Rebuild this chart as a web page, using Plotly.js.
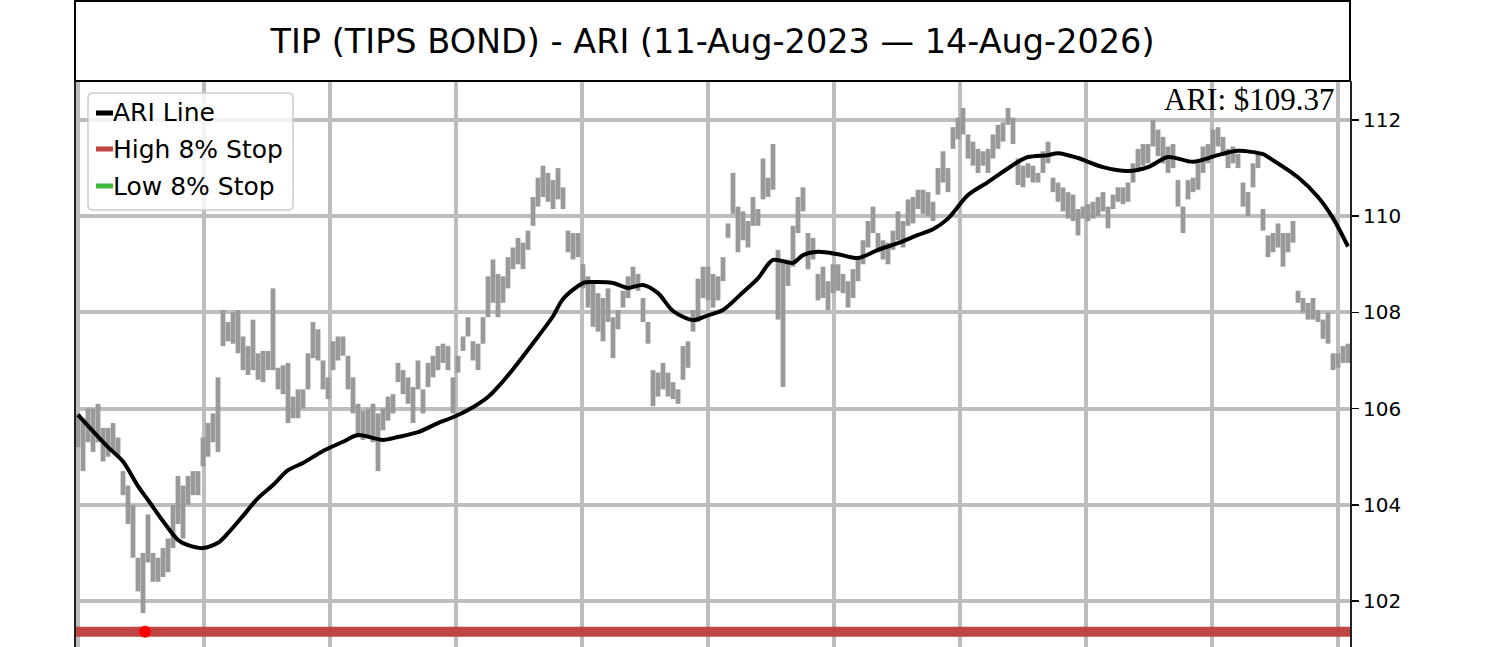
<!DOCTYPE html>
<html><head><meta charset="utf-8">
<script src="https://cdn.plot.ly/plotly-3.0.1.min.js"></script>
<style>html,body{margin:0;padding:0;background:#fff;overflow:hidden}</style>
</head><body><div id="chart" style="width:1500px;height:647px"></div>
<script>
// Daily price range bars (low / high), one per bar index
const priceLow = [
105.2,104.7,105.3,105.1,105.3,104.9,105.0,105.1,105.0,104.2,
103.6,102.9,102.2,101.75,102.8,102.4,102.4,102.5,102.6,103.1,
103.6,103.3,104.0,104.2,104.2,104.8,105.0,105.3,105.1,107.3,
107.4,107.35,107.15,106.8,106.7,106.8,106.6,106.55,106.8,106.8,
106.4,106.3,105.7,105.8,105.8,106.0,106.4,107.05,107.0,106.4,
106.2,106.8,107.0,107.1,106.4,105.9,105.4,105.35,105.4,105.3,
104.7,105.55,105.75,105.9,106.55,106.3,106.1,105.7,106.4,105.9,
106.45,106.65,106.8,106.95,106.8,105.9,106.75,107.2,107.5,107.0,
106.8,107.35,107.9,108.2,107.9,108.2,108.5,108.9,109.0,108.9,
109.3,109.8,110.2,110.4,110.3,110.15,110.35,110.15,109.25,109.1,
109.15,108.5,108.1,107.7,107.6,107.4,107.8,107.05,107.65,108.1,
108.3,108.5,108.45,107.8,107.35,106.05,106.25,106.4,106.25,106.2,
106.1,106.6,106.85,107.6,107.8,108.3,108.25,108.1,108.25,108.65,
109.55,110.05,109.25,109.5,109.35,109.8,109.8,110.35,110.4,110.55,
107.85,106.45,108.55,108.95,109.65,110.1,108.9,109.1,108.25,108.3,
108.05,108.4,108.45,108.4,108.1,108.3,108.65,109.0,109.35,109.65,
109.25,109.1,109.0,109.3,109.5,109.35,109.8,109.85,110.15,110.05,
110.0,109.9,110.45,110.7,110.5,111.4,111.6,111.7,111.2,111.05,
110.9,111.05,110.9,111.2,111.4,111.55,111.9,111.5,110.65,110.6,
110.8,110.7,110.7,110.9,111.1,110.5,110.3,110.1,109.95,109.9,
109.6,109.95,109.9,109.95,110.0,110.1,109.75,110.15,110.3,110.25,
110.3,110.7,111.0,111.05,111.1,111.45,111.25,111.1,110.9,111.0,
110.2,109.65,110.35,110.5,110.55,110.9,111.1,111.25,111.45,111.25,
111.0,111.1,111.0,110.2,110.0,110.6,111.0,109.7,109.15,109.25,
109.35,108.95,109.25,109.45,108.2,108.0,107.85,107.85,107.8,107.45,
107.35,106.8,106.85,106.95,106.95
];
const priceHigh = [
105.9,105.8,106.0,106.0,106.1,105.6,105.6,105.7,105.4,104.7,
104.4,104.0,102.9,103.0,103.8,103.0,102.9,103.1,103.3,104.0,
104.6,104.4,104.6,104.7,104.7,105.4,105.7,105.9,106.65,108.05,
107.8,108.0,108.05,107.5,107.3,107.85,107.15,107.2,107.2,108.5,
106.85,106.9,106.95,106.25,106.4,106.4,107.15,107.8,107.65,107.0,
106.65,107.4,107.5,107.5,107.1,106.65,106.1,105.95,106.0,106.1,
105.9,106.0,106.25,106.3,106.95,106.8,106.65,106.45,107.0,106.4,
106.95,107.1,107.3,107.35,107.3,106.65,107.1,107.5,107.9,107.4,
107.35,107.9,108.75,109.1,108.8,108.75,109.15,109.35,109.55,109.45,
109.7,110.4,110.8,111.05,110.9,110.75,111.0,110.6,109.7,109.65,
109.65,109.0,108.75,108.6,108.4,108.3,108.5,107.9,108.05,108.45,
108.75,108.95,108.8,108.3,107.8,106.8,106.75,106.95,106.75,106.55,
106.4,107.3,107.4,108.05,108.7,108.95,108.95,108.8,108.75,109.15,
109.85,110.9,110.2,110.1,109.9,110.4,110.15,111.2,110.8,111.5,
109.3,109.1,109.1,109.8,110.4,110.6,109.65,109.55,108.8,108.95,
108.65,109.0,109.0,108.8,108.65,108.9,109.15,109.5,109.9,110.2,
109.65,109.5,109.45,109.7,110.1,109.9,110.35,110.4,110.55,110.55,
110.5,110.3,111.0,111.35,111.0,111.85,112.05,112.25,111.7,111.55,
111.4,111.35,111.4,111.7,111.9,111.95,112.25,112.05,111.2,111.05,
111.1,111.05,110.9,111.35,111.55,110.8,110.7,110.6,110.5,110.45,
110.15,110.2,110.25,110.3,110.4,110.5,110.2,110.45,110.6,110.6,
110.7,111.1,111.4,111.5,111.5,112.0,111.8,111.65,111.45,111.5,
110.75,110.2,110.75,110.8,111.1,111.45,111.5,111.8,111.85,111.65,
111.4,111.45,111.3,110.7,110.5,111.1,111.3,110.15,109.6,109.65,
109.85,109.65,109.65,109.9,108.45,108.3,108.2,108.3,108.05,107.85,
108.0,107.15,107.15,107.3,107.35
];
// ARI line (smoothed), sampled at bar indexes
const ariX = [0,3,6,9,12,14,17,20,22,25,28,30,33,36,39,42,45,49,53,56,61,64,68,72,75,79,82,84,87,91,95,97,101,103,107,110,113,116,119,123,126,129,133,136,139,143,145,148,152,156,160,164,168,171,174,178,182,188,190,194,196,200,205,210,214,218,223,228,232,237,238,244,248,251,254];
const ariY = [105.87,105.53,105.20,104.90,104.39,104.10,103.66,103.27,103.16,103.10,103.21,103.41,103.77,104.14,104.41,104.72,104.87,105.12,105.31,105.45,105.35,105.41,105.51,105.70,105.82,106.03,106.24,106.45,106.82,107.36,107.92,108.28,108.61,108.63,108.61,108.51,108.57,108.40,108.03,107.84,107.94,108.05,108.42,108.71,109.09,109.03,109.19,109.26,109.21,109.13,109.30,109.44,109.61,109.73,109.95,110.44,110.71,111.13,111.23,111.27,111.31,111.21,111.02,110.94,111.02,111.23,111.13,111.27,111.36,111.29,111.23,110.81,110.40,109.96,109.37];
const highStopLevel = 101.36;
const stopHitX = [13.4];
const stopHitY = [101.36];
const yTickVals = [102,104,106,108,110,112];
const titleText = 'TIP (TIPS BOND) - ARI (11-Aug-2023 \u2014 14-Aug-2026)';
const ariLabel = 'ARI: $109.37';
const legendNames = ['ARI Line','High 8% Stop','Low 8% Stop'];
const legendColors = ['#000000','#bf4545','#3cba3c'];

const W = 1500, H = 647, L = 75, R = 150, T = 81, B = 0;
const pw = W - L - R, ph = H - T - B;
const px = v => (v - L) / pw;
const py = v => (H - B - v) / ph;

const bx = [], by = [];
for (let i = 0; i < priceLow.length; i++) {
  bx.push(i, i, null);
  by.push(priceLow[i], priceHigh[i], null);
}

const traces = [
  {type:'scatter', mode:'lines', name:'Price', x:bx, y:by, connectgaps:false,
   line:{color:'#999999', width:4.8}, hoverinfo:'skip', showlegend:false},
  {type:'scatter', mode:'lines', name:legendNames[0], x:ariX, y:ariY,
   line:{color:'#000000', width:4, shape:'spline', smoothing:0.8}, showlegend:false},
  {type:'scatter', mode:'lines', name:legendNames[1], x:[-5, priceLow.length + 5], y:[highStopLevel, highStopLevel],
   line:{color:legendColors[1], width:10}, showlegend:false},
  {type:'scatter', mode:'markers', name:'Stop hit', x:stopHitX, y:stopHitY,
   marker:{color:'#ff0000', size:12}, showlegend:false}
];

const shapes = [
  {type:'rect', xref:'paper', yref:'paper', x0:0, x1:1, y0:1, y1:1 + (T - 1) / ph,
   line:{color:'#000', width:2}, fillcolor:'rgba(0,0,0,0)', layer:'above'},
  {type:'line', xref:'paper', yref:'paper', x0:0, x1:0, y0:0, y1:1, line:{color:'#222', width:2}, layer:'above'}
];
(function(){
  const x0 = px(88), x1 = px(293), yt = py(93), yb = py(210);
  const rx = 5 / pw, ry = 5 / ph;
  const p = `M ${x0+rx},${yt} L ${x1-rx},${yt} Q ${x1},${yt} ${x1},${yt-ry} L ${x1},${yb+ry} Q ${x1},${yb} ${x1-rx},${yb} L ${x0+rx},${yb} Q ${x0},${yb} ${x0},${yb+ry} L ${x0},${yt-ry} Q ${x0},${yt} ${x0+rx},${yt} Z`;
  shapes.push({type:'path', xref:'paper', yref:'paper', path:p,
    line:{color:'#cccccc', width:1.5}, fillcolor:'rgba(255,255,255,0.8)', layer:'above'});
})();
const legendY = [113, 149, 186];
const annotations = [
  {xref:'paper', yref:'paper', x:px(1337), y:py(99), xanchor:'right', yanchor:'middle',
   text:ariLabel, showarrow:false, font:{family:'Liberation Serif, Times New Roman, serif', size:31, color:'#000'}}
];
legendNames.forEach((n, i) => {
  shapes.push({type:'line', xref:'paper', yref:'paper', x0:px(96), x1:px(113), y0:py(legendY[i]), y1:py(legendY[i]),
    line:{color:legendColors[i], width:5}, layer:'above'});
  annotations.push({xref:'paper', yref:'paper', x:px(111), y:py(legendY[i]), xanchor:'left', yanchor:'middle',
    text:n, showarrow:false, font:{family:'DejaVu Sans', size:25, color:'#000'}});
});

const layout = {
  width:W, height:H,
  margin:{l:L, r:R, t:T, b:B, pad:0},
  paper_bgcolor:'#ffffff', plot_bgcolor:'#ffffff',
  font:{family:'DejaVu Sans', color:'#000'},
  title:{text:titleText, x:0.5, xref:'paper', xanchor:'center', y:1 - 41 / H, yref:'container', yanchor:'middle',
    font:{family:'DejaVu Sans', size:33.5, color:'#000'}},
  showlegend:false,
  xaxis:{range:[-0.6, 254.4], showgrid:true, gridcolor:'#bdbdbd', gridwidth:4, dtick:25.2, tick0:0,
    showticklabels:false, ticks:'', zeroline:false, showline:false, fixedrange:true},
  yaxis:{side:'right', range:[101.044, 112.811], tickvals:yTickVals, ticktext:yTickVals.map(String),
    showgrid:true, gridcolor:'#bdbdbd', gridwidth:4, zeroline:false,
    ticks:'outside', ticklen:7, tickwidth:1.5, tickcolor:'#000',
    showline:true, linecolor:'#222', linewidth:2,
    tickfont:{family:'DejaVu Sans', size:20, color:'#000'}, fixedrange:true},
  shapes:shapes, annotations:annotations
};
Plotly.newPlot('chart', traces, layout, {staticPlot:true, displayModeBar:false});
</script></body></html>
